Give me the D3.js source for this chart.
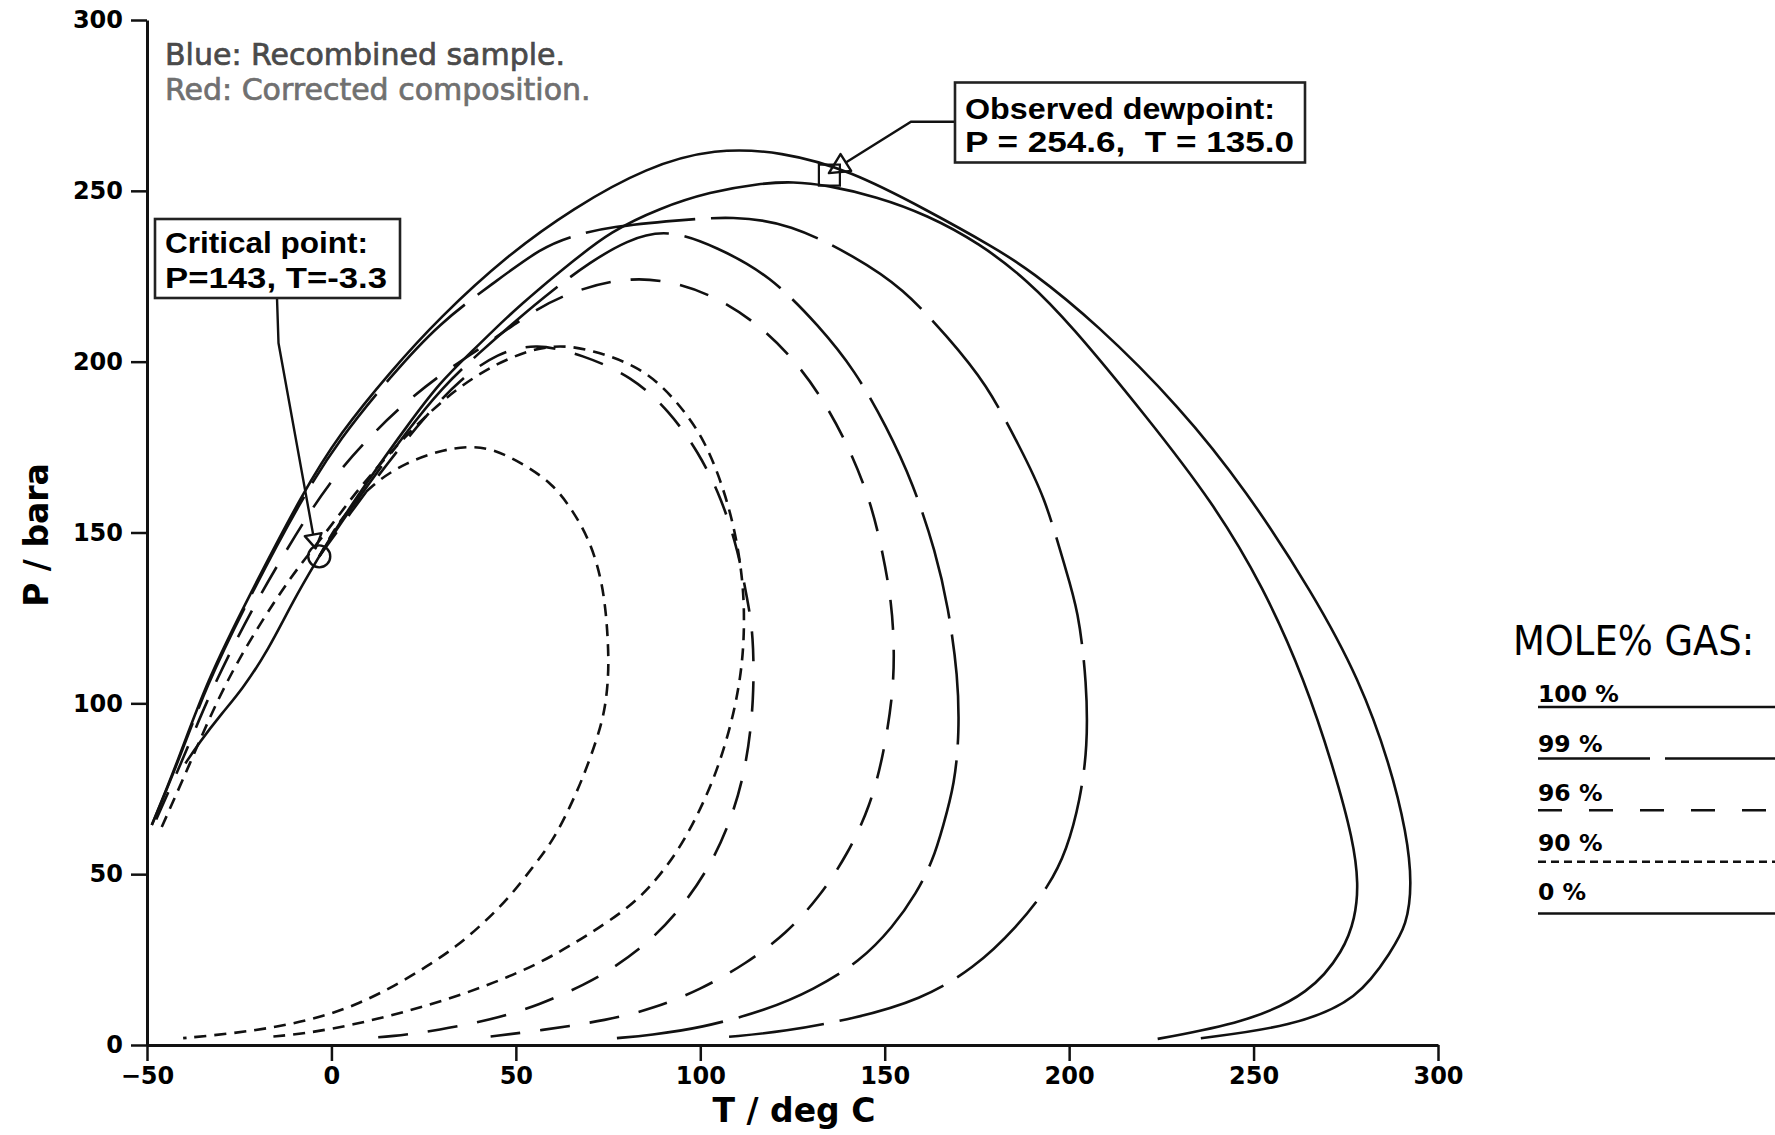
<!DOCTYPE html>
<html>
<head>
<meta charset="utf-8">
<script src="https://cdn.jsdelivr.net/npm/d3@7"></script>
<style>
  body { margin: 0; background: #fff; }
  svg { display: block; }
</style>
</head>
<body>
<div id="chart"></div>
<script>
// phase envelopes: [T deg C, P bara]
// blue = recombined sample, red = corrected composition
const blue100 = [[-48.7,64.4],[-42,82],[-33.8,106.5],[-22.3,131.5],[-7.6,162],[2.3,179],[15.9,197],[29.4,213],[47.5,231],[65.6,245],[85.5,257],[104,262.5],[122,261.5],[140.6,256],[161.4,244.4],[179.4,233.6],[189.4,226.8],[207.4,211.2],[230,186.8],[248,162.4],[266.1,132.2],[278.8,106.8],[287,82],[291.5,62],[293,47],[291.5,35],[287.5,27.8],[278.5,13.2],[260.4,5.4],[235.7,2]];
const blue99 = [[-48.7,64.4],[-42,81.5],[-34,105],[-22.5,130.5],[-8,160],[2.3,177.5],[15.9,195.5],[29.4,211.5],[44,223],[57,233.5],[66,237],[75.5,239.5],[94,241.4],[108.9,242.6],[124.3,240.5],[142,230.7],[155,221.5],[167,207.3],[177.6,193.6],[186.6,175],[193.4,160.5],[198.8,140],[202.5,127.3],[204.8,105.8],[205,87.3],[203,71.7],[199.4,57.1],[194.5,46.4],[185.9,34.6],[174.2,22.4],[159.7,13.2],[142.1,7.8],[122.7,3.9],[107.8,2.4]];
const blue96 = [[-47.5,66],[-40.5,83],[-33.7,101],[-27,116],[-20.3,130],[-9.4,150],[-0.7,164.5],[8.6,176],[18.1,186.3],[29.9,196.6],[41.6,204.7],[51.1,212.2],[62,219.5],[79.5,225],[93.5,223.4],[106.2,218],[117.7,209.2],[127.2,198.4],[134.9,186.1],[141.2,172.7],[146.3,158.6],[149.5,144],[151.9,129.4],[152.6,116],[152.3,102.9],[149.6,84.4],[146,69.8],[140.1,56.1],[132.4,43.4],[123.4,32.7],[112.6,23.9],[99.9,16.1],[87.3,10.7],[75.1,7.3],[56.5,4.2],[42.5,2.4]];
const blue90 = [[-46,63.8],[-38.5,82],[-31,101],[-23,117],[-15.3,130],[-9.3,139.5],[0,152],[6,161],[15.9,173.5],[30.4,189.6],[44.9,200],[59.4,205.5],[71,203.4],[82.7,198.8],[89.9,192.7],[96.2,184.9],[101.2,176.6],[105.2,166.3],[108.8,153.6],[111.1,140],[112,128],[111.7,114],[109.9,101],[107.2,89.3],[103.6,77.6],[99.1,66.9],[93.7,56.2],[86,45.5],[79,39],[72,34],[67.4,30.8],[56.5,23.9],[43.9,18.1],[31.2,13.2],[18.6,9.3],[5.9,5.9],[-6.7,3.4],[-16.6,2.4]];
const red100 = [[-3.3,143],[2,152.5],[11.4,167.5],[20.4,181],[29.4,194],[38.5,203.4],[47.5,213],[56.5,221.5],[65.6,229.5],[75.5,238],[89.1,245],[102.6,249.7],[116.2,252.2],[125.2,252.7],[134.2,251.7],[147.8,248.3],[161.4,243],[175.8,234.6],[188.5,224],[200.2,211.2],[221,183.9],[239.1,158.6],[252.6,134.2],[263.9,106.8],[272,80],[277,60],[278.5,47],[277.5,37],[274.5,27.8],[265.5,15.1],[247.4,6.4],[224,1.8]];
const red99 = [[-3.3,143],[2,152],[10,164],[20,179],[30,192.5],[40,202.5],[50,212],[60,221],[70,229],[80,235.5],[90.9,239],[104.4,233.6],[118.9,225.3],[132.4,210.2],[141.9,197.5],[150.5,181],[157.7,164.4],[163.9,144],[167.2,128.3],[169.9,107.8],[170.2,91.2],[169,76.6],[165.8,63.9],[163.1,54.1],[158.6,44.4],[152.3,34.6],[143.3,24.4],[130.6,16.1],[118,10.2],[99.9,4.9],[86.4,2.9],[77.4,2]];
const red96 = [[-3.3,143],[5,155.5],[15,170],[25,183.5],[35,195],[45,202.5],[55.5,205.5],[68,202],[81.4,195.8],[91.6,185.6],[99.5,173.6],[105.8,160],[110.3,144.4],[112.7,130.7],[114.4,120.5],[114.6,101],[112.6,82.4],[109,67.8],[103.6,54.1],[95.9,41.4],[86.4,30.2],[75.6,21.9],[69.2,18],[56.5,11.7],[43,7.3],[29.4,4.4],[15.9,2.4],[8.6,2]];
const red90 = [[-3.3,143],[2.3,154],[11.3,164.5],[20.3,170.5],[29.4,174],[37,175.3],[43.8,174.5],[51.9,170.2],[60,164.3],[65.4,156.5],[70,147.7],[73.1,137],[74.5,126.3],[75.1,115.6],[75.1,107.8],[74.2,98],[71.9,89.2],[68.3,78.5],[64.7,69.7],[60.2,60],[54.7,52.2],[48.4,43.4],[41.2,35.6],[33.9,28.8],[25.8,22.9],[16.8,17.1],[7.7,12.2],[-2.2,8.3],[-14,5.4],[-26.6,3.4],[-40.2,2]];
const red0 = [[-3.3,143],[-10.3,130.2],[-17.1,115.6],[-24.3,103.9],[-29.7,97.1],[-36,88.3],[-39.6,82.4]];

const criticalPoint = [-3.3, 143];
const observedDew = [135.0, 254.6];

const moleGas = ["100 %", "99 %", "96 %", "90 %", "0 %"];
const xTicks = [-50, 0, 50, 100, 150, 200, 250, 300];
const yTicks = [0, 50, 100, 150, 200, 250, 300];

const W = 1775, H = 1135;
const SANS = "'DejaVu Sans', Verdana, sans-serif";
const BOXFONT = "'Liberation Sans', Arial, sans-serif";
const INK = "#111";

const dash = { "100 %": null, "99 %": "110,16", "96 %": "30,20", "90 %": "12,8", "0 %": null };
const legendDash = { "100 %": null, "99 %": "112,15", "96 %": "24,27", "90 %": "8,5", "0 %": null };

const curves = [
  { pts: blue100, gas: "100 %" },
  { pts: blue99, gas: "99 %" },
  { pts: blue96, gas: "96 %" },
  { pts: blue90, gas: "90 %" },
  { pts: red100, gas: "100 %" },
  { pts: red99, gas: "99 %" },
  { pts: red96, gas: "96 %" },
  { pts: red90, gas: "90 %" },
  { pts: red0, gas: "0 %" }
];

const x = d3.scaleLinear().domain([-50, 300]).range([147, 1438]);
const y = d3.scaleLinear().domain([0, 300]).range([1045, 20]);

const svg = d3.select("#chart").append("svg")
  .attr("width", W)
  .attr("height", H)
  .style("background", "#fff");

// axes
const xAxis = svg.append("g")
  .attr("transform", `translate(0,${y(0)})`)
  .call(d3.axisBottom(x).tickValues(xTicks).tickSize(16).tickPadding(6).tickSizeOuter(0));

const yAxis = svg.append("g")
  .attr("transform", `translate(${x(-50)},0)`)
  .call(d3.axisLeft(y).tickValues(yTicks).tickSize(16).tickPadding(8).tickSizeOuter(0));

[xAxis, yAxis].forEach(ax => {
  ax.select(".domain").attr("stroke", INK).attr("stroke-width", 3);
  ax.selectAll(".tick line").attr("stroke", INK).attr("stroke-width", 2.5);
  ax.selectAll(".tick text")
    .attr("fill", "#000")
    .attr("font-family", SANS)
    .attr("font-weight", "bold")
    .attr("font-size", 24);
});

svg.append("text")
  .attr("x", 794)
  .attr("y", 1122)
  .attr("text-anchor", "middle")
  .attr("font-family", SANS)
  .attr("font-weight", "bold")
  .attr("font-size", 33)
  .text("T / deg C");

svg.append("text")
  .attr("transform", "translate(48,535) rotate(-90)")
  .attr("text-anchor", "middle")
  .attr("font-family", SANS)
  .attr("font-weight", "bold")
  .attr("font-size", 33)
  .text("P / bara");

// envelopes and quality lines (B-spline smooths the hand-read points)
const line = d3.line()
  .x(d => x(d[0]))
  .y(d => y(d[1]))
  .curve(d3.curveBasis);

svg.append("g")
  .selectAll("path")
  .data(curves)
  .join("path")
  .attr("d", d => line(d.pts))
  .attr("fill", "none")
  .attr("stroke", INK)
  .attr("stroke-width", 2.6)
  .attr("stroke-linejoin", "round")
  .attr("stroke-dasharray", d => dash[d.gas]);

// markers
svg.append("circle")
  .attr("cx", x(criticalPoint[0]))
  .attr("cy", y(criticalPoint[1]))
  .attr("r", 11)
  .attr("fill", "none")
  .attr("stroke", INK)
  .attr("stroke-width", 2.4);

svg.append("rect")
  .attr("x", x(observedDew[0]) - 10.5)
  .attr("y", y(observedDew[1]) - 10.5)
  .attr("width", 21)
  .attr("height", 21)
  .attr("fill", "none")
  .attr("stroke", INK)
  .attr("stroke-width", 2.2);

// leader with hollow arrowhead
function leader(points, tip, len, half) {
  const last = points[points.length - 1];
  const dx = last[0] - tip[0], dy = last[1] - tip[1];
  const l = Math.hypot(dx, dy);
  const ux = dx / l, uy = dy / l;
  const base = [tip[0] + ux * len, tip[1] + uy * len];
  svg.append("path")
    .attr("d", d3.line()([...points, base]))
    .attr("fill", "none")
    .attr("stroke", INK)
    .attr("stroke-width", 2.4);
  const tri = [
    tip,
    [base[0] - uy * half, base[1] + ux * half],
    [base[0] + uy * half, base[1] - ux * half]
  ];
  svg.append("path")
    .attr("d", d3.line()(tri) + "Z")
    .attr("fill", "none")
    .attr("stroke", INK)
    .attr("stroke-width", 2.4)
    .attr("stroke-linejoin", "round");
}

function labelBox(bx, by, bw, bh, lines, size, first, gap) {
  svg.append("rect")
    .attr("x", bx).attr("y", by)
    .attr("width", bw).attr("height", bh)
    .attr("fill", "#fff")
    .attr("stroke", "#222")
    .attr("stroke-width", 2.6);
  lines.forEach((t, i) => {
    svg.append("text")
      .attr("x", bx + 10)
      .attr("y", by + first + i * gap)
      .attr("font-family", BOXFONT)
      .attr("font-weight", "bold")
      .attr("font-size", size)
      .attr("textLength", t.w)
      .attr("lengthAdjust", "spacingAndGlyphs")
      .style("white-space", "pre")
      .text(t.s);
  });
}

leader([[277, 298], [278.5, 343]],
  [x(criticalPoint[0]) - 3.6, y(criticalPoint[1]) - 8], 14, 8.5);
labelBox(155, 219, 245, 79,
  [{ s: "Critical point:", w: 203 }, { s: "P=143, T=-3.3", w: 222 }], 30, 34, 35);

leader([[955, 121.7], [911, 121.7]],
  [x(observedDew[0]) - 0.5, y(observedDew[1]) - 2], 20, 10);
labelBox(955, 82.5, 350, 80,
  [{ s: "Observed dewpoint:", w: 310 }, { s: "P = 254.6,  T = 135.0", w: 329 }], 29, 36, 33);

// notes
svg.append("text")
  .attr("x", 165).attr("y", 65)
  .attr("font-family", SANS)
  .attr("font-size", 30)
  .attr("fill", "#4a4a4a")
  .attr("stroke", "#4a4a4a")
  .attr("stroke-width", 0.7)
  .text("Blue: Recombined sample.");

svg.append("text")
  .attr("x", 165).attr("y", 100)
  .attr("font-family", SANS)
  .attr("font-size", 30)
  .attr("fill", "#707070")
  .attr("stroke", "#707070")
  .attr("stroke-width", 0.7)
  .text("Red: Corrected composition.");

// legend
const legend = svg.append("g");

legend.append("text")
  .attr("x", 1513).attr("y", 655)
  .attr("font-family", "'DejaVu Sans Condensed', " + SANS)
  .style("font-stretch", "condensed")
  .attr("font-size", 41)
  .text("MOLE% GAS:");

moleGas.forEach((g, i) => {
  const base = 702 + i * 49.6;
  const ly = 707 + i * 51.6;
  legend.append("text")
    .attr("x", 1538).attr("y", base)
    .attr("font-family", SANS)
    .attr("font-weight", "bold")
    .attr("font-size", 23.5)
    .text(g);
  legend.append("line")
    .attr("x1", 1538).attr("x2", W)
    .attr("y1", ly).attr("y2", ly)
    .attr("stroke", INK)
    .attr("stroke-width", 2.5)
    .attr("stroke-dasharray", legendDash[g]);
});
</script>
</body>
</html>
